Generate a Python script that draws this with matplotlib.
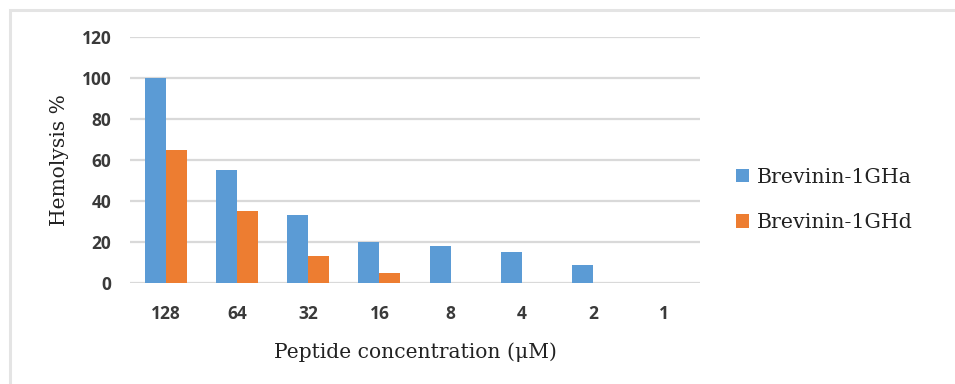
import matplotlib
matplotlib.use("Agg")
import matplotlib.pyplot as plt
import numpy as np
from matplotlib.patches import Rectangle

categories = ["128", "64", "32", "16", "8", "4", "2", "1"]
series_names = ["Brevinin-1GHa", "Brevinin-1GHd"]
ghA = [100, 55, 33, 20, 18, 15, 9, 0]
ghD = [65, 35, 13, 5, 0, 0, 0, 0]
yticks = [0, 20, 40, 60, 80, 100, 120]

blue = "#5B9BD5"
orange = "#ED7D31"
grid_c = "#D9D9D9"
tick_c = "#3A3A3A"

fig = plt.figure(figsize=(9.55, 3.84), dpi=100)
fig.patches.append(Rectangle((9.5/955, -0.1), 1.2, 1 - 10.5/384 + 0.1,
                             transform=fig.transFigure, fill=False,
                             edgecolor="#E4E4E4", linewidth=2.2, zorder=0))

ax = fig.add_axes([130/955, 1 - 283/384, 570/955, 246/384])
x = np.arange(len(categories))
w = 0.295
bA = ax.bar(x - w/2, ghA, width=w, color=blue, label=series_names[0], zorder=3)
bD = ax.bar(x + w/2, ghD, width=w, color=orange, label=series_names[1], zorder=3)

ax.set_xlim(-0.5, len(categories) - 0.5)
ax.set_ylim(0, 120)
ax.set_yticks(yticks)
ax.set_xticks(x)
ax.set_xticklabels(categories)
for s in ax.spines.values():
    s.set_visible(False)
ax.yaxis.grid(True, color=grid_c, linewidth=1.6, zorder=0)
ax.set_axisbelow(True)
ax.tick_params(axis="both", length=0, labelsize=12.5, labelcolor=tick_c)
ax.tick_params(axis="y", pad=13.5)
ax.tick_params(axis="x", pad=15.5)
for lab in ax.get_xticklabels() + ax.get_yticklabels():
    lab.set_fontfamily("Open Sans")
    lab.set_fontweight("bold")

serif = "DejaVu Serif"
ax.set_xlabel("Peptide concentration (μM)", fontsize=14.6, family=serif,
              color="#222222", labelpad=14)
ax.set_ylabel("Hemolysis %", fontsize=14.6, family=serif,
              color="#222222", labelpad=9)

fig.legend(handles=[bA, bD], labels=series_names,
           loc="center left", bbox_to_anchor=(717/955, 1 - 200/384),
           bbox_transform=fig.transFigure, frameon=False,
           prop={"family": serif, "size": 14.8}, handlelength=0.65,
           handleheight=0.65, handletextpad=0.4, labelspacing=1.3,
           labelcolor="#222222")

fig.savefig("out.png", dpi=100, facecolor="white")
